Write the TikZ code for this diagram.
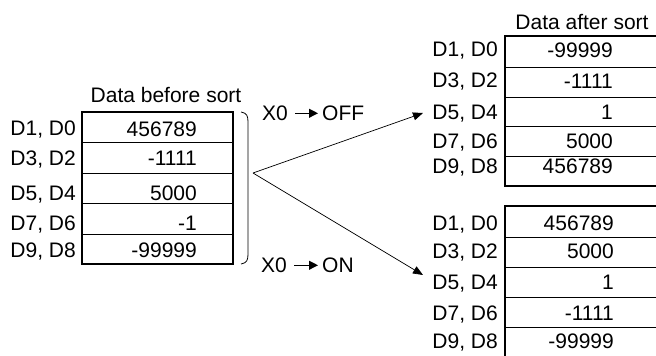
\documentclass[tikz,border=0pt]{standalone}
\usepackage{fontspec}
\setmainfont{Liberation Sans}
\usetikzlibrary{arrows.meta}
\begin{document}
\begin{tikzpicture}[x=1pt,y=-1pt,
  txt/.style={font=\fontsize{21}{25}\selectfont, inner sep=0pt},
  lab/.style={txt, anchor=base east},
  val/.style={txt, anchor=base east},
  outer/.style={line width=1.4pt},
  inner/.style={line width=0.8pt},
  arr/.style={line width=0.7pt, -{Triangle[length=10pt,width=8pt]}},
  sarr/.style={line width=1.1pt, -{Triangle[length=9pt,width=9pt]}}]
\useasboundingbox (0,0) rectangle (656,356);
% left table
\node[txt] (tbefore) at (166,95) {Data before sort};
\draw[outer] (82,112) rectangle (233,264);
\foreach \y in {142,173,203,234} \draw[inner] (82,\y) -- (233,\y);
\node[lab] (l1) at (76,135.5) {D1, D0};
\node[lab] (l2) at (76,165.5) {D3, D2};
\node[lab] (l3) at (76,200.5) {D5, D4};
\node[lab] (l4) at (76,230.5) {D7, D6};
\node[lab] (l5) at (76,257.5) {D9, D8};
\node[val] (v1) at (197,136.5) {456789};
\node[val] (v2) at (197,165.5) {-1111};
\node[val] (v3) at (197,200.5) {5000};
\node[val] (v4) at (197,230.5) {-1};
\node[val] (v5) at (197,257.5) {-99999};
% brace
\draw[line width=0.8pt] (241,112) .. controls (247,113) and (248,116) .. (248,122) -- (248,254) .. controls (248,260) and (247,263) .. (241,264);
% fork
\coordinate (fork) at (253,173);
\coordinate (endA) at (423,113);
\coordinate (endB) at (423,275);
\draw[arr] (fork) -- (endA);
\draw[arr] (fork) -- (endB);
% conditions
\node[txt, anchor=base west] (xa) at (262,120.5) {X0};
\node[txt, anchor=base west] (offa) at (322,120.5) {OFF};
\draw[sarr] ([xshift=7pt]xa.east) -- ([xshift=-4pt]offa.west);
\node[txt, anchor=base west] (xb) at (261,272.5) {X0};
\node[txt, anchor=base west] (onb) at (322,272.5) {ON};
\draw[sarr] ([xshift=7pt]xb.east) -- ([xshift=-4pt]onb.west);
% right top table
\node[txt] (tafter) at (582,22) {Data after sort};
\draw[outer] (660,36) -- (505,36) -- (505,186) -- (660,186);
\foreach \y in {67,97,126,156} \draw[inner] (505,\y) -- (660,\y);
\node[lab] (a1) at (498,56.5) {D1, D0};
\node[lab] (a2) at (498,87.5) {D3, D2};
\node[lab] (a3) at (498,119.5) {D5, D4};
\node[lab] (a4) at (498,148.5) {D7, D6};
\node[lab] (a5) at (498,173.5) {D9, D8};
\node[val] (av1) at (613,57.5) {-99999};
\node[val] (av2) at (613,88.5) {-1111};
\node[val] (av3) at (613,119.5) {1};
\node[val] (av4) at (613,148.5) {5000};
\node[val] (av5) at (613,173.5) {456789};
% right bottom table
\draw[outer] (660,206) -- (505,206) -- (505,362);
\foreach \y in {237,267,297,327} \draw[inner] (505,\y) -- (660,\y);
\node[lab] (b1) at (498,230) {D1, D0};
\node[lab] (b2) at (498,258) {D3, D2};
\node[lab] (b3) at (498,289.5) {D5, D4};
\node[lab] (b4) at (498,320) {D7, D6};
\node[lab] (b5) at (498,348.5) {D9, D8};
\node[val] (bv1) at (614,230) {456789};
\node[val] (bv2) at (614,258.5) {5000};
\node[val] (bv3) at (614,289.5) {1};
\node[val] (bv4) at (614,320) {-1111};
\node[val] (bv5) at (614,348.5) {-99999};
\end{tikzpicture}
\end{document}
